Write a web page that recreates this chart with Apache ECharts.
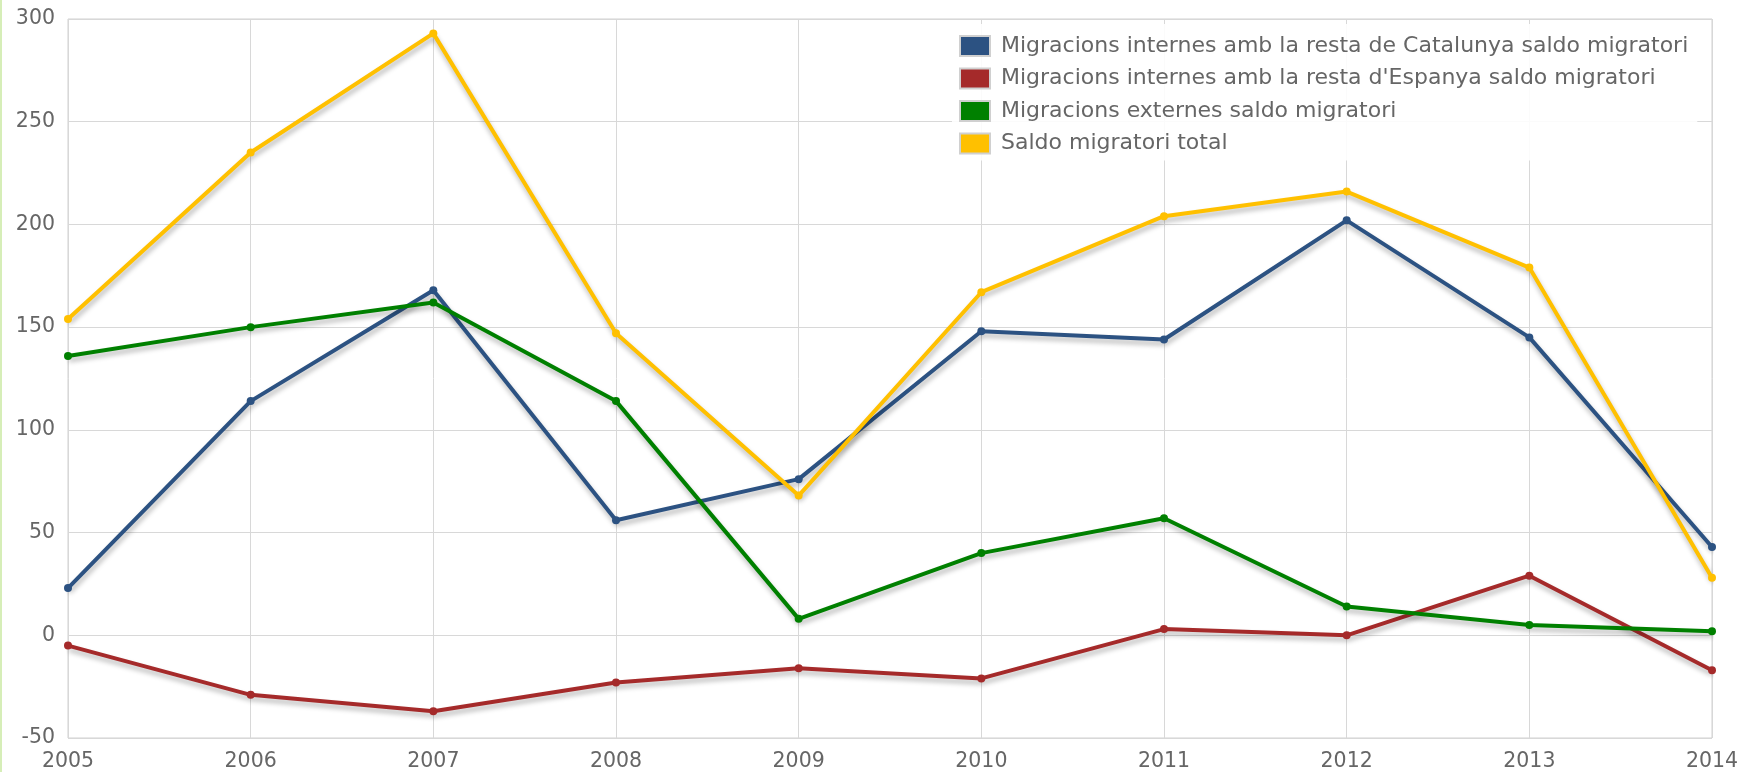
<!DOCTYPE html>
<html>
<head>
<meta charset="utf-8">
<script src="https://cdn.jsdelivr.net/npm/echarts@6/dist/echarts.min.js"></script>
<style>
html,body{margin:0;padding:0;background:#fff;}
#c{width:1753px;height:772px;}
#edge{position:absolute;left:0;top:0;width:2px;height:772px;background:#d6eeb8;}
</style>
</head>
<body>
<div id="c"></div>
<div id="edge"></div>
<script>
const years = ['2005','2006','2007','2008','2009','2010','2011','2012','2013','2014'];
const catalunya = [23, 114, 168, 56, 76, 148, 144, 202, 145, 43];
const espanya = [-5, -29, -37, -23, -16, -21, 3, 0, 29, -17];
const externes = [136, 150, 162, 114, 8, 40, 57, 14, 5, 2];
const total = [154, 235, 293, 147, 68, 167, 204, 216, 179, 28];
const names = [
  'Migracions internes amb la resta de Catalunya saldo migratori',
  "Migracions internes amb la resta d'Espanya saldo migratori",
  'Migracions externes saldo migratori',
  'Saldo migratori total'
];
const colors = ['#2c5282', '#a52a2a', '#008000', '#ffc000'];
const font = '"DejaVu Sans", Verdana, sans-serif';

function mk(name, data, color) {
  return {
    name: name, type: 'line', data: data,
    symbol: 'circle', symbolSize: 8,
    itemStyle: {color: color},
    lineStyle: {width: 4, color: color, shadowColor: 'rgba(0,0,0,0.28)', shadowBlur: 5, shadowOffsetX: 1, shadowOffsetY: 4},
    emphasis: {disabled: true}, animation: false
  };
}

const chart = echarts.init(document.getElementById('c'));
chart.setOption({
  backgroundColor: '#fff',
  animation: false,
  grid: {left: 68, right: 41, top: 19, bottom: 33, show: true, borderColor: '#d0d0d0', borderWidth: 1},
  legend: {
    orient: 'vertical', left: 952, top: 24,
    itemWidth: 30, itemHeight: 20, itemGap: 10.5,
    icon: 'rect',
    backgroundColor: 'rgba(255,255,255,0.88)',
    padding: [11, 9, 6, 7],
    textStyle: {fontFamily: font, fontSize: 22, color: '#666', lineHeight: 20, padding: [0, 0, 0, 6]},
    itemStyle: {borderColor: '#d0d0d0', borderWidth: 2}
  },
  xAxis: {
    type: 'category', data: years, boundaryGap: false,
    axisLine: {show: false}, axisTick: {show: false},
    axisLabel: {fontFamily: font, fontSize: 20.5, color: '#666', margin: 13},
    splitLine: {show: true, lineStyle: {color: '#d8d8d8', width: 1}}
  },
  yAxis: {
    type: 'value', min: -50, max: 300, interval: 50,
    axisLine: {show: false}, axisTick: {show: false},
    axisLabel: {fontFamily: font, fontSize: 20.5, color: '#666', margin: 13},
    splitLine: {lineStyle: {color: '#d8d8d8', width: 1}}
  },
  series: [
    mk(names[0], catalunya, colors[0]),
    mk(names[1], espanya, colors[1]),
    mk(names[2], externes, colors[2]),
    mk(names[3], total, colors[3])
  ]
});
</script>
</body>
</html>
